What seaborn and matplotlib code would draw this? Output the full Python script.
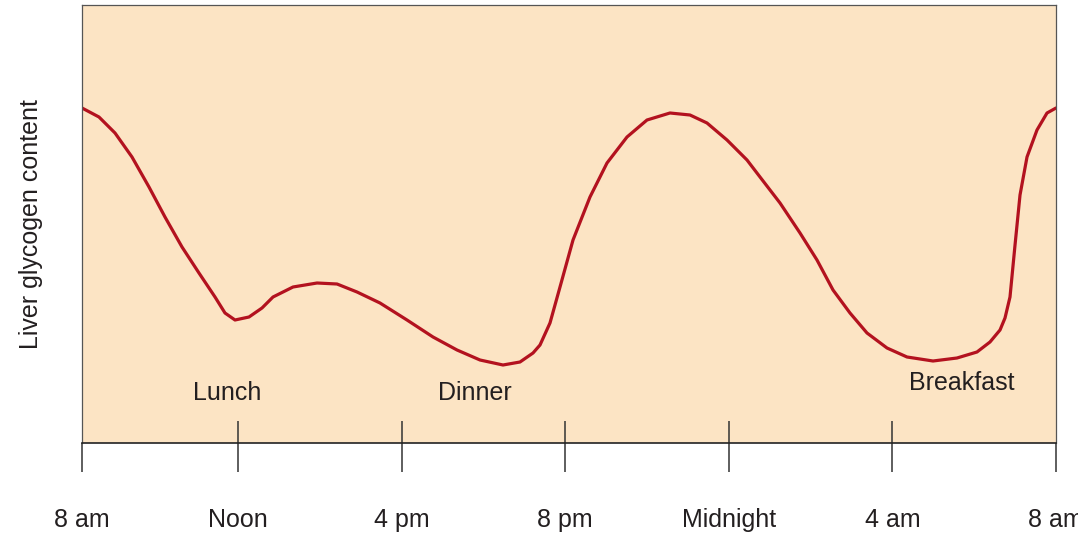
import matplotlib
matplotlib.use("Agg")
import matplotlib.pyplot as plt
import seaborn as sns
import pandas as pd

# time axis in hours (8 am at the left edge, noon = 4), glycogen in arbitrary units
hours = [0.186, 0.601, 0.993, 1.408, 1.824, 2.215, 2.631, 3.046, 3.438, 3.682,
         3.927, 4.269, 4.587, 4.856, 5.345, 5.932, 6.421, 6.910, 7.472, 8.132,
         8.768, 9.355, 9.917, 10.479, 10.895, 11.213, 11.384, 11.628, 11.873, 12.191,
         12.606, 13.022, 13.511, 14.000, 14.562, 15.051, 15.467, 15.956, 16.445, 16.763,
         17.252, 17.741, 18.156, 18.548, 18.963, 19.379, 19.868, 20.357, 20.993, 21.579,
         22.068, 22.386, 22.631, 22.753, 22.875, 22.998, 23.120, 23.291, 23.535, 23.780,
         24.000]
glycogen = [335, 326, 310, 286, 256, 226, 196, 170, 146, 130,
            123, 126, 135, 146, 156, 160, 159, 151, 140, 123,
            106, 93, 83, 78, 81, 90, 98, 120, 156, 203,
            246, 280, 306, 323, 330, 328, 320, 303, 283, 266,
            240, 210, 183, 153, 130, 110, 95, 86, 82, 85,
            91, 101, 113, 125, 146, 198, 248, 286, 313, 330,
            335]

tick_hours = [0.186, 4, 8, 12, 16, 20, 24]
tick_labels = ["8 am", "Noon", "4 pm", "8 pm", "Midnight", "4 am", "8 am"]

meals = ["Lunch", "Dinner", "Breakfast"]
meal_hours = [3.73, 9.79, 21.70]
meal_levels = [50, 50, 60]

df = pd.DataFrame({"hour": hours, "glycogen": glycogen})

sns.set_theme(style="white")
plt.rcParams["font.family"] = ["Liberation Sans", "DejaVu Sans"]

fig = plt.figure(figsize=(10.78, 5.35), dpi=100)
ax = fig.add_axes([0.07607, 0.17196, 0.90353, 0.8187])
ax.set_facecolor("#fce4c4")

sns.lineplot(data=df, x="hour", y="glycogen", ax=ax, sort=False, estimator=None,
             color="#b3121f", linewidth=2.3)
ax.lines[0].set_solid_joinstyle("round")

for name, h, lv in zip(meals, meal_hours, meal_levels):
    ax.text(h, lv, name, ha="center", va="center", fontsize=18, color="#231f20")

ax.set_xlim(0.186, 24)
ax.set_ylim(0, 438)
ax.set_yticks([])
ax.set_xlabel("")
ax.set_ylabel("Liver glycogen content", fontsize=18, color="#231f20", labelpad=28)

ax.set_xticks(tick_hours)
ax.set_xticklabels(tick_labels, fontsize=18, color="#231f20")
ax.set_xticks([4, 8, 12, 16, 20], minor=True)
ax.xaxis.remove_overlapping_locs = False
ax.tick_params(axis="x", which="major", direction="out", length=21, width=1.1,
               color="#333333", pad=26, bottom=True)
ax.tick_params(axis="x", which="minor", direction="in", length=15.5, width=1.1,
               color="#333333", bottom=True)

for side in ["top", "right", "left"]:
    ax.spines[side].set_color("#555555")
    ax.spines[side].set_linewidth(0.9)
ax.spines["bottom"].set_color("#222222")
ax.spines["bottom"].set_linewidth(1.2)

fig.savefig("out.png", dpi=100)
